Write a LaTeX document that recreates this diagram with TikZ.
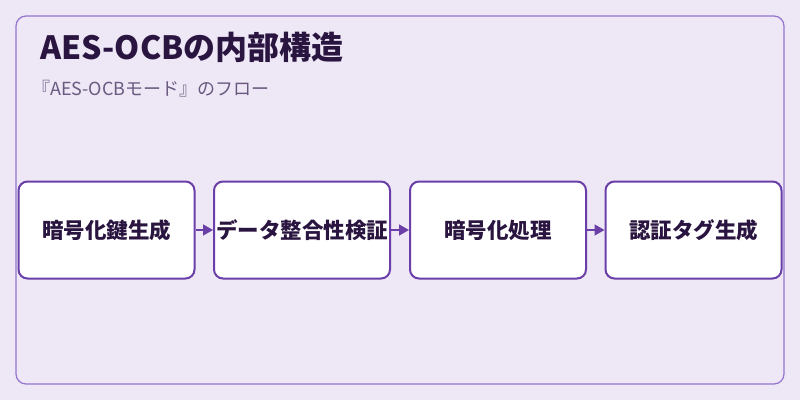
\documentclass[tikz,border=0pt]{standalone}
\usepackage{fontspec}
\setmainfont{Noto Sans CJK JP}
\usetikzlibrary{arrows.meta}
\definecolor{bg}{HTML}{EDE7F6}
\definecolor{frame}{HTML}{9575CD}
\definecolor{boxb}{HTML}{6A3FA8}
\definecolor{titlec}{HTML}{2A1540}
\definecolor{subc}{HTML}{6A5A80}
\tikzset{
 stepbox/.style={draw=boxb,line width=2pt,fill=white,rounded corners=9pt,minimum width=176pt,minimum height=97pt,inner sep=0pt,font=\fontsize{21.5}{24}\selectfont\bfseries,text=titlec},
 conn/.style={-{Triangle[length=10pt,width=11pt]},draw=boxb,line width=1.5pt,color=boxb}
}
\begin{document}
\begin{tikzpicture}[x=1pt,y=-1pt]
\useasboundingbox[fill=bg] (0,0) rectangle (800,400);
\draw[frame,line width=1.2pt,rounded corners=10pt] (16,16) rectangle (784,384);
\node[anchor=west,inner sep=0pt,font=\fontsize{32}{36}\selectfont\bfseries,text=titlec] (title) at (40,47) {AES-OCBの内部構造};
\node[anchor=west,inner sep=0pt,font=\fontsize{18}{21}\selectfont,text=subc] (sub) at (32,89) {『AES-OCBモード』のフロー};
\node[stepbox] (a) at (106.5,230) {暗号化鍵生成};
\node[stepbox] (b) at (302,230) {データ整合性検証};
\node[stepbox] (c) at (498,230) {暗号化処理};
\node[stepbox] (d) at (693.5,230) {認証タグ生成};
\draw[conn] (a) -- (b);
\draw[conn] (b) -- (c);
\draw[conn] (c) -- (d);
\end{tikzpicture}
\end{document}
